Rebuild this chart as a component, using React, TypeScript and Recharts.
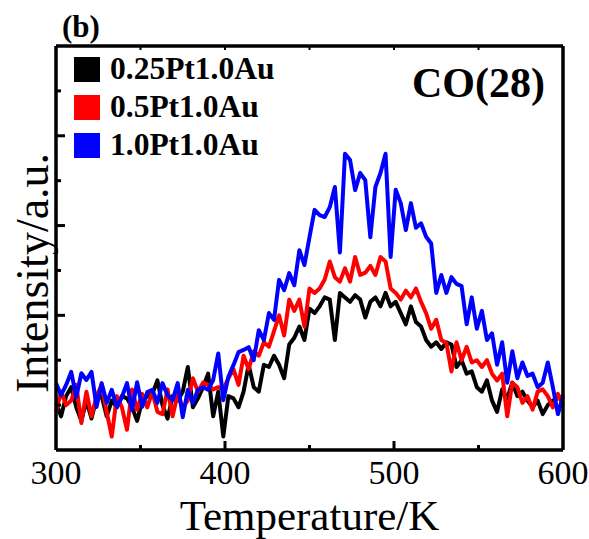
import React from 'react';
import { LineChart, Line, XAxis, YAxis, Legend, Customized } from 'recharts';

// Temperature (K), one sample every 3 K
const temperature = [
  300, 303, 306, 309, 312, 315, 318, 321, 324, 327, 330, 333, 336, 339, 342, 345, 348, 351, 354, 357,
  360, 363, 366, 369, 372, 375, 378, 381, 384, 387, 390, 393, 396, 399, 402, 405, 408, 411, 414, 417,
  420, 423, 426, 429, 432, 435, 438, 441, 444, 447, 450, 453, 456, 459, 462, 465, 468, 471, 474, 477,
  480, 483, 486, 489, 492, 495, 498, 501, 504, 507, 510, 513, 516, 519, 522, 525, 528, 531, 534, 537,
  540, 543, 546, 549, 552, 555, 558, 561, 564, 567, 570, 573, 576, 579, 582, 585, 588, 591, 594, 597,
  600,
];

// 0.25Pt1.0Au (black)
const pt025 = [
  1.05, 0.75, 1.2, 1.4, 0.95, 0.65, 1.1, 0.7, 1.15, 1.2, 0.75, 1.1, 0.95, 1.2, 1.15, 0.95, 0.65, 1.1, 1.2, 1.25,
  1.55, 1.0, 0.7, 1.2, 1.1, 1.3, 1.85, 0.95, 1.15, 1.4, 1.7, 0.75, 1.3, 0.3, 1.2, 1.15, 0.95, 1.3, 1.9, 1.4,
  1.3, 1.9, 1.85, 2.1, 1.9, 1.6, 2.35, 2.5, 2.75, 2.45, 3.15, 3.05, 3.2, 3.4, 3.35, 2.45, 3.5, 3.4, 3.3, 3.45,
  3.35, 2.95, 3.3, 3.4, 3.2, 3.5, 3.2, 3.3, 3.05, 2.8, 3.2, 2.85, 2.75, 2.45, 2.3, 2.4, 2.25, 2.4, 2.35, 1.85,
  2.0, 1.7, 1.75, 1.4, 1.3, 1.55, 1.1, 0.85, 1.35, 1.15, 1.5, 1.2, 1.3, 1.1, 0.95, 1.1, 0.8, 1.0, 1.1, 1.15,
  1.2,
];

// 0.5Pt1.0Au (red)
const pt05 = [
  0.85, 1.3, 1.0, 1.1, 1.45, 0.6, 1.3, 0.75, 1.2, 1.45, 0.85, 0.3, 1.2, 0.95, 0.45, 1.35, 0.9, 1.25, 0.95, 1.3,
  0.85, 0.8, 1.35, 0.75, 1.25, 0.95, 1.1, 1.6, 1.3, 1.5, 1.45, 1.35, 1.4, 1.35, 1.6, 1.8, 1.45, 2.1, 1.8, 2.2,
  2.1, 2.4, 2.3, 2.65, 3.0, 2.55, 3.35, 3.1, 3.35, 2.75, 3.6, 3.5, 3.6, 3.8, 4.2, 3.85, 3.75, 4.05, 3.75, 4.3,
  3.9, 3.95, 4.1, 3.9, 4.3, 4.2, 3.6, 3.5, 3.35, 3.55, 3.4, 3.6, 3.3, 3.05, 2.7, 2.9, 2.45, 2.38, 1.75, 2.4,
  2.0, 2.3, 1.95, 2.0, 1.85, 2.0, 1.7, 1.55, 1.7, 0.75, 1.5, 1.4, 1.05, 1.2, 0.9, 1.3, 1.35, 1.2, 0.95, 1.25,
  1.0,
];

// 1.0Pt1.0Au (blue)
const pt10 = [
  1.49, 1.22, 1.45, 1.74, 1.18, 1.71, 1.56, 1.74, 0.96, 1.49, 1.05, 1.34, 0.96, 1.18, 1.49, 0.89, 1.51, 0.96, 1.29, 1.34,
  1.05, 1.49, 1.22, 1.11, 1.49, 0.73, 1.34, 1.05, 1.34, 1.4, 1.34, 1.56, 2.15, 1.11, 1.63, 1.89, 2.18, 2.23, 2.29, 2.0,
  2.67, 2.45, 3.05, 2.9, 3.79, 3.56, 3.94, 3.67, 4.45, 4.12, 4.74, 5.35, 5.23, 5.19, 5.41, 5.86, 4.4, 6.6, 6.46, 5.79,
  6.17, 6.01, 4.74, 5.86, 6.17, 6.6, 4.3, 5.8, 5.5, 4.9, 5.5, 4.95, 5.05, 4.75, 4.6, 3.5, 3.9, 3.5, 3.85, 3.7,
  3.65, 2.8, 3.4, 2.7, 3.1, 2.45, 2.6, 1.9, 2.4, 1.5, 2.2, 1.6, 1.95, 1.65, 1.7, 1.4, 1.5, 1.95, 1.4, 0.8,
  1.2,
];

const seriesKeys = ['a', 'b', 'c'];
const seriesNames = ['0.25Pt1.0Au', '0.5Pt1.0Au', '1.0Pt1.0Au'];
const seriesColors = ['#000000', '#ff0000', '#0000ff'];

const xDomain = [300, 600];
const xBottomTicks = [300, 350, 400, 450, 500, 550, 600];
const xLabelTicks = [300, 400, 500, 600];
const xTopTicks = [350, 400, 450, 500, 550];
const yDomain = [0, 9];
const yTicks = [1, 2, 3, 4, 5, 6, 7, 8];
const yMajorTicks = [3, 5, 7];

const data = temperature.map((t, i) => ({ t, a: pt025[i], b: pt05[i], c: pt10[i] }));

const FONT = '"Times New Roman", "Liberation Serif", serif';
const AXIS_LINE = { stroke: '#000000', strokeWidth: 3.5 };

const BottomTick = (props: any) => {
  const { x, y, payload } = props;
  const v = payload.value;
  const labeled = xLabelTicks.includes(v);
  const len = labeled ? 9 : 5;
  return (
    <g>
      {v !== xDomain[0] && v !== xDomain[1] && (
        <line x1={x} x2={x} y1={y} y2={y - len} stroke="#000" strokeWidth={3} />
      )}
      {labeled && (
        <text x={x} y={y + 34} textAnchor="middle" fontSize={34} fontFamily={FONT} fill="#000">
          {v}
        </text>
      )}
    </g>
  );
};

const TopTick = (props: any) => {
  const { x, y } = props;
  return <line x1={x} x2={x} y1={y} y2={y + 4} stroke="#000" strokeWidth={2} />;
};

const LeftTick = (props: any) => {
  const { x, y, payload } = props;
  const len = yMajorTicks.includes(payload.value) ? 9 : 5;
  return <line x1={x} x2={x + len} y1={y} y2={y} stroke="#000" strokeWidth={3} />;
};

const RightTick = (props: any) => {
  const { x, y } = props;
  return <line x1={x} x2={x + 3} y1={y} y2={y} stroke="#000" strokeWidth={2} />;
};

const XTitle = (props: any) => {
  const vb = props.viewBox || {};
  return (
    <text x={vb.x + vb.width / 2} y={vb.y + 80} textAnchor="middle" fontSize={43} fontFamily={FONT} fill="#000">
      Temperature/K
    </text>
  );
};

const YTitle = (props: any) => {
  const vb = props.viewBox || {};
  const cx = vb.x + (vb.width || 0) - 8;
  const cy = vb.y + vb.height / 2 + 25;
  return (
    <text
      x={cx}
      y={cy}
      transform={`rotate(-90 ${cx} ${cy})`}
      textAnchor="middle"
      fontSize={46}
      fontFamily={FONT}
      fill="#000"
    >
      Intensity/a.u.
    </text>
  );
};

const LegendContent = () => (
  <div>
    {seriesNames.map((n, i) => (
      <div key={n} style={{ display: 'flex', alignItems: 'center', height: 38 }}>
        <span
          style={{ display: 'inline-block', width: 26, height: 25, background: seriesColors[i], marginRight: 10 }}
        />
        <span style={{ fontFamily: FONT, fontWeight: 'bold', fontSize: 31.5, lineHeight: '30px', color: '#000', whiteSpace: 'nowrap' }}>
          {n}
        </span>
      </div>
    ))}
  </div>
);

const Annotations = () => (
  <g>
    <text x={62} y={37} fontFamily={FONT} fontWeight="bold" fontSize={31} fill="#000">
      (b)
    </text>
    <text x={545} y={97} textAnchor="end" fontFamily={FONT} fontWeight="bold" fontSize={42} fill="#000">
      CO(28)
    </text>
  </g>
);

export default function App() {
  return (
    <div style={{ position: 'absolute', left: 0, top: 0, background: '#fff' }}>
      <LineChart width={589} height={539} data={data} margin={{ top: 45, right: 25, bottom: 0, left: 55 }}>
        <XAxis
          xAxisId="top"
          orientation="top"
          dataKey="t"
          type="number"
          domain={xDomain}
          ticks={xTopTicks}
          interval={0}
          height={1}
          tickSize={0}
          tickMargin={0}
          tickLine={false}
          tick={<TopTick />}
          axisLine={AXIS_LINE}
        />
        <XAxis
          xAxisId="x"
          orientation="bottom"
          dataKey="t"
          type="number"
          domain={xDomain}
          ticks={xBottomTicks}
          interval={0}
          height={89}
          tickSize={0}
          tickMargin={0}
          tickLine={false}
          tick={<BottomTick />}
          axisLine={AXIS_LINE}
          label={<XTitle />}
        />
        <YAxis
          yAxisId="y"
          orientation="left"
          type="number"
          domain={yDomain}
          ticks={yTicks}
          interval={0}
          width={1}
          tickSize={0}
          tickMargin={0}
          tickLine={false}
          tick={<LeftTick />}
          axisLine={AXIS_LINE}
          label={<YTitle />}
        />
        <YAxis
          yAxisId="r"
          orientation="right"
          type="number"
          domain={yDomain}
          ticks={yTicks}
          interval={0}
          width={1}
          tickSize={0}
          tickMargin={0}
          tickLine={false}
          tick={<RightTick />}
          axisLine={AXIS_LINE}
        />
        {seriesKeys.map((k, i) => (
          <Line
            key={k}
            xAxisId="x"
            yAxisId="y"
            type="linear"
            dataKey={k}
            name={seriesNames[i]}
            stroke={seriesColors[i]}
            strokeWidth={4}
            strokeLinejoin="round"
            dot={false}
            activeDot={false}
            isAnimationActive={false}
          />
        ))}
        <Legend
          layout="vertical"
          align="center"
          verticalAlign="middle"
          wrapperStyle={{ position: 'absolute', left: 74, top: 50, width: 'auto', height: 'auto' }}
          content={<LegendContent />}
        />
        <Customized component={Annotations} />
      </LineChart>
    </div>
  );
}
